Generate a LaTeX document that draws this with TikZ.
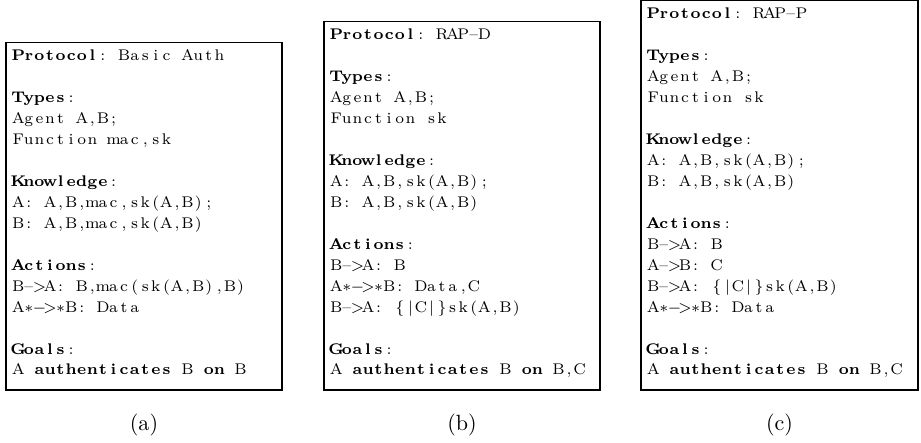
\documentclass[tikz,border=0pt]{standalone}
\usetikzlibrary{fit}

% ---- fixed-column typesetting: every character centred in its own column ----
\newlength\colw
\setlength\colw{4.8pt}
\let\fxend\relax \let\fxbf\relax \let\fxrm\relax
\def\fxendm{\fxend}
\def\fxbfm{\fxbf}
\def\fxrmm{\fxrm}
\def\fxloop#1{%
  \def\fxarg{#1}%
  \ifx\fxarg\fxendm \let\fxnext\relax
  \else\ifx\fxarg\fxbfm \bfseries\let\fxnext\fxloop
  \else\ifx\fxarg\fxrmm \mdseries\let\fxnext\fxloop
  \else \makebox[\colw]{#1}\let\fxnext\fxloop
  \fi\fi\fi\fxnext}
\newcommand\fx[1]{{\fontsize{7}{9.5}\selectfont\fxloop#1\fxend}}

\tikzset{
  ln/.style={anchor=base west, inner sep=0pt, outer sep=0pt},
  frame/.style={draw, line width=0.8pt, inner sep=0pt},
  sublabel/.style={anchor=base, inner sep=0pt, font=\normalsize}
}

\begin{document}
\begin{tikzpicture}[x=0.4535pt, y=-0.4535pt]
\useasboundingbox (0,0) rectangle (921,443);
\def\lp{20.95}
\def\xa{13}
\def\xb{331}
\def\xc{648}

% frames
\node[frame, fit={(6,42.5) (282,390)}] (boxa) {};
\node[frame, fit={(324,21.5) (600,390)}] (boxb) {};
\node[frame, fit={(641,0.5) (918,390)}] (boxc) {};

% (a) Basic Auth
\node[ln] (a1)  at (\xa, {375-15*\lp}) {\fx{\fxbf Protocol\fxrm :~Basic~Auth}};
\node[ln] (a3)  at (\xa, {375-13*\lp}) {\fx{\fxbf Types\fxrm :}};
\node[ln] (a4)  at (\xa, {375-12*\lp}) {\fx{Agent~A,B;}};
\node[ln] (a5)  at (\xa, {375-11*\lp}) {\fx{Function~mac,sk}};
\node[ln] (a7)  at (\xa, {375-9*\lp})  {\fx{\fxbf Knowledge\fxrm :}};
\node[ln] (a8)  at (\xa, {375-8*\lp})  {\fx{A:~A,B,mac,sk(A,B);}};
\node[ln] (a9)  at (\xa, {375-7*\lp})  {\fx{B:~A,B,mac,sk(A,B)}};
\node[ln] (a11) at (\xa, {375-5*\lp})  {\fx{\fxbf Actions\fxrm :}};
\node[ln] (a12) at (\xa, {375-4*\lp})  {\fx{B{--}{$>$}A:~B,mac(sk(A,B),B)}};
\node[ln] (a13) at (\xa, {375-3*\lp})  {\fx{A{$\ast$}{$-$}{$>$}{$\ast$}B:~Data}};
\node[ln] (a15) at (\xa, {375-1*\lp})  {\fx{\fxbf Goals\fxrm :}};
\node[ln] (a16) at (\xa, 375)          {\fx{A~\fxbf authenticates\fxrm ~B~\fxbf on\fxrm ~B}};

% (b) RAP-D
\node[ln] (b1)  at (\xb, {375-16*\lp}) {\fx{\fxbf Protocol\fxrm :~RAP{--}D}};
\node[ln] (b3)  at (\xb, {375-14*\lp}) {\fx{\fxbf Types\fxrm :}};
\node[ln] (b4)  at (\xb, {375-13*\lp}) {\fx{Agent~A,B;}};
\node[ln] (b5)  at (\xb, {375-12*\lp}) {\fx{Function~sk}};
\node[ln] (b7)  at (\xb, {375-10*\lp}) {\fx{\fxbf Knowledge\fxrm :}};
\node[ln] (b8)  at (\xb, {375-9*\lp})  {\fx{A:~A,B,sk(A,B);}};
\node[ln] (b9)  at (\xb, {375-8*\lp})  {\fx{B:~A,B,sk(A,B)}};
\node[ln] (b11) at (\xb, {375-6*\lp})  {\fx{\fxbf Actions\fxrm :}};
\node[ln] (b12) at (\xb, {375-5*\lp})  {\fx{B{--}{$>$}A:~B}};
\node[ln] (b13) at (\xb, {375-4*\lp})  {\fx{A{$\ast$}{$-$}{$>$}{$\ast$}B:~Data,C}};
\node[ln] (b14) at (\xb, {375-3*\lp})  {\fx{B{--}{$>$}A:~{$\{$}{$|$}C{$|$}{$\}$}sk(A,B)}};
\node[ln] (b16) at (\xb, {375-1*\lp})  {\fx{\fxbf Goals\fxrm :}};
\node[ln] (b17) at (\xb, 375)          {\fx{A~\fxbf authenticates\fxrm ~B~\fxbf on\fxrm ~B,C}};

% (c) RAP-P
\node[ln] (c1)  at (\xc, {375-17*\lp}) {\fx{\fxbf Protocol\fxrm :~RAP{--}P}};
\node[ln] (c3)  at (\xc, {375-15*\lp}) {\fx{\fxbf Types\fxrm :}};
\node[ln] (c4)  at (\xc, {375-14*\lp}) {\fx{Agent~A,B;}};
\node[ln] (c5)  at (\xc, {375-13*\lp}) {\fx{Function~sk}};
\node[ln] (c7)  at (\xc, {375-11*\lp}) {\fx{\fxbf Knowledge\fxrm :}};
\node[ln] (c8)  at (\xc, {375-10*\lp}) {\fx{A:~A,B,sk(A,B);}};
\node[ln] (c9)  at (\xc, {375-9*\lp})  {\fx{B:~A,B,sk(A,B)}};
\node[ln] (c11) at (\xc, {375-7*\lp})  {\fx{\fxbf Actions\fxrm :}};
\node[ln] (c12) at (\xc, {375-6*\lp})  {\fx{B{--}{$>$}A:~B}};
\node[ln] (c13) at (\xc, {375-5*\lp})  {\fx{A{--}{$>$}B:~C}};
\node[ln] (c14) at (\xc, {375-4*\lp})  {\fx{B{--}{$>$}A:~{$\{$}{$|$}C{$|$}{$\}$}sk(A,B)}};
\node[ln] (c15) at (\xc, {375-3*\lp})  {\fx{A{$\ast$}{$-$}{$>$}{$\ast$}B:~Data}};
\node[ln] (c17) at (\xc, {375-1*\lp})  {\fx{\fxbf Goals\fxrm :}};
\node[ln] (c18) at (\xc, 375)          {\fx{A~\fxbf authenticates\fxrm ~B~\fxbf on\fxrm ~B,C}};

% sub-figure labels
\node[sublabel] (laba) at (144, 431) {(a)};
\node[sublabel] (labb) at (462, 431) {(b)};
\node[sublabel] (labc) at (779.5, 431) {(c)};
\end{tikzpicture}
\end{document}
